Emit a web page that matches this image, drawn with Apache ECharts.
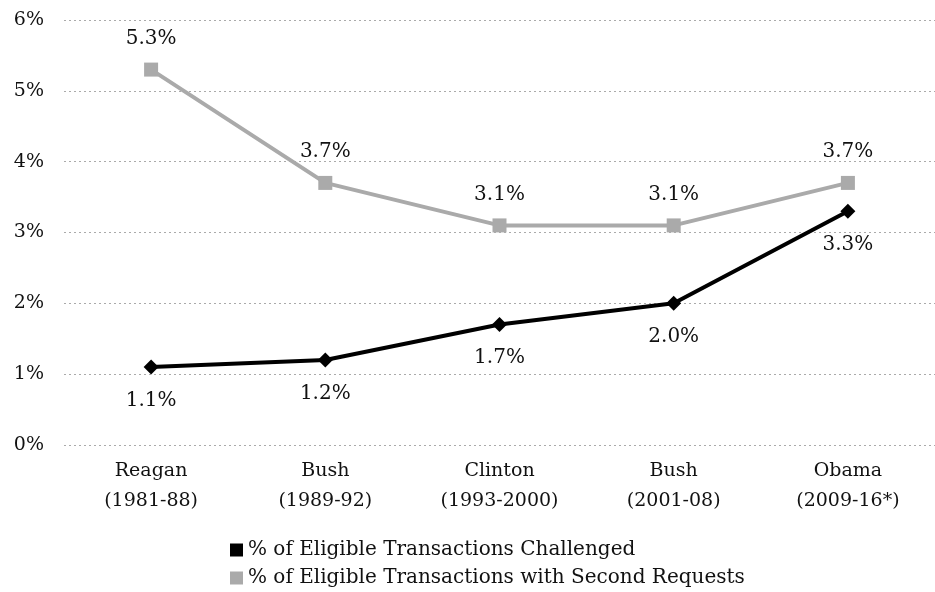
<!DOCTYPE html>
<html><head><meta charset="utf-8">
<script src="https://cdn.jsdelivr.net/npm/echarts@6/dist/echarts.min.js"></script>
<style>html,body{margin:0;padding:0;background:#fff}#c{width:935px;height:592px}</style>
</head><body><div id="c"></div>
<script>
const categories = ['Reagan\n(1981-88)', 'Bush\n(1989-92)', 'Clinton\n(1993-2000)', 'Bush\n(2001-08)', 'Obama\n(2009-16*)'];
const challenged = [1.1, 1.2, 1.7, 2.0, 3.3];
const secondRequests = [5.3, 3.7, 3.1, 3.1, 3.7];
const seriesNames = ['% of Eligible Transactions Challenged', '% of Eligible Transactions with Second Requests'];
const FONT = 'DejaVu Serif';
const legendBase = {
  orient: 'horizontal', left: 225, itemWidth: 13, itemHeight: 13, icon: 'rect', itemGap: 4,
  textStyle: {fontFamily: FONT, fontSize: 20, color: '#111', padding: [0, 0, 0, 0]}
};
const chart = echarts.init(document.getElementById('c'));
chart.setOption({
  animation: false,
  textStyle: {fontFamily: FONT},
  grid: {left: 64, right: -4, top: 20, bottom: 147},
  legend: [
    Object.assign({}, legendBase, {top: 535, data: [seriesNames[0]]}),
    Object.assign({}, legendBase, {top: 563, data: [seriesNames[1]]})
  ],
  xAxis: {
    type: 'category', data: categories,
    axisLine: {show: false}, axisTick: {show: false},
    axisLabel: {fontFamily: FONT, fontSize: 19, color: '#111', lineHeight: 30, margin: 11}
  },
  yAxis: {
    type: 'value', min: 0, max: 6, interval: 1,
    axisLabel: {formatter: '{value}%', fontFamily: FONT, fontSize: 19, color: '#111', margin: 20},
    axisLine: {show: false}, axisTick: {show: false},
    splitLine: {lineStyle: {type: [2, 3], color: '#aaa', width: 1}}
  },
  series: [
    {
      name: seriesNames[0], type: 'line', data: challenged,
      symbol: 'diamond', symbolSize: 15,
      lineStyle: {color: '#000', width: 4},
      itemStyle: {color: '#000'},
      label: {show: true, position: 'bottom', distance: 16, formatter: p => p.value.toFixed(1) + '%',
        fontFamily: FONT, fontSize: 20, color: '#111'},
      z: 3
    },
    {
      name: seriesNames[1], type: 'line', data: secondRequests,
      symbol: 'rect', symbolSize: 14,
      lineStyle: {color: '#aaaaaa', width: 4},
      itemStyle: {color: '#aaaaaa'},
      label: {show: true, position: 'top', distance: 14, formatter: p => p.value.toFixed(1) + '%',
        fontFamily: FONT, fontSize: 20, color: '#111'},
      z: 2
    }
  ]
});
</script></body></html>
